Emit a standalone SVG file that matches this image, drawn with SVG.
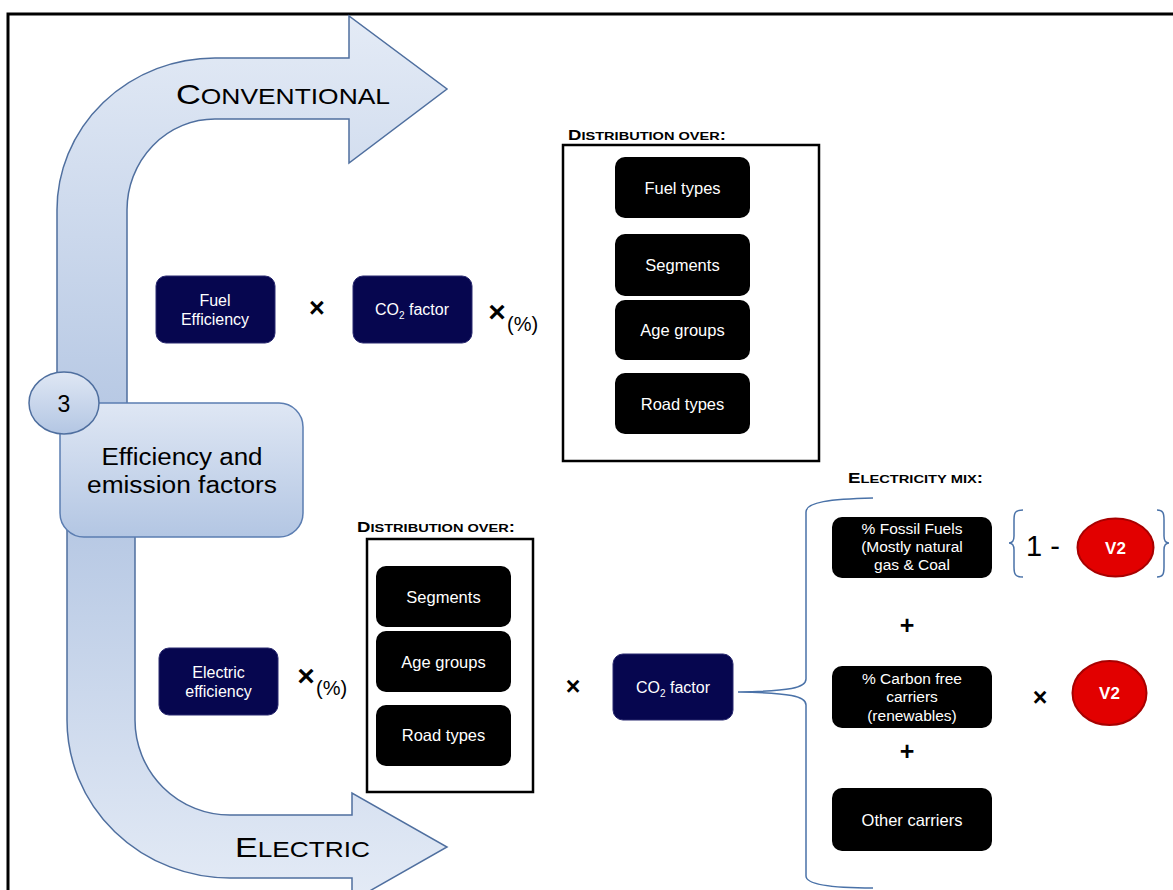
<svg xmlns="http://www.w3.org/2000/svg" width="1173" height="890" viewBox="0 0 1173 890">
<defs>
<linearGradient id="gTop" x1="0" y1="16" x2="0" y2="430" gradientUnits="userSpaceOnUse">
<stop offset="0" stop-color="#e4ebf6"/><stop offset="1" stop-color="#b5c7e3"/>
</linearGradient>
<linearGradient id="gBot" x1="0" y1="510" x2="0" y2="900" gradientUnits="userSpaceOnUse">
<stop offset="0" stop-color="#b5c7e3"/><stop offset="1" stop-color="#e4ebf6"/>
</linearGradient>
<linearGradient id="gBox" x1="0" y1="0" x2="0" y2="1">
<stop offset="0" stop-color="#dfe7f4"/><stop offset="1" stop-color="#b3c6e3"/>
</linearGradient>
<style>
.arrow{stroke:#4f6f9f;stroke-width:1.5}
.navy{fill:#06064f;stroke:#2a2a70;stroke-width:1}
.blk{fill:#000}
.wt{fill:#fff;font-family:"Liberation Sans",Arial,sans-serif;text-anchor:middle}
.t{font-family:"Liberation Sans",Arial,sans-serif;fill:#000}
.sc{font-family:"Liberation Sans",Arial,sans-serif;font-weight:bold;fill:#000}
.brace{fill:none;stroke:#4a72a8;stroke-width:1.5}
.v2{fill:#e20000;stroke:#a80000;stroke-width:2}
.frame{fill:none;stroke:#000;stroke-width:3}
.dist{fill:none;stroke:#000;stroke-width:2.5}
.op{font-family:"Liberation Sans",Arial,sans-serif;fill:#000;font-weight:bold;text-anchor:middle}
</style>
</defs>
<rect x="0" y="0" width="1173" height="890" fill="#fff"/>
<rect class="frame" x="8" y="14" width="1200" height="900"/>

<g id="arrow-conventional">
<path class="arrow" fill="url(#gTop)" d="M57,430 L57,210 A158,152 0 0 1 215,58 L349,58 L349,16 L447,89 L349,163 L349,119 L215,119 A88,91 0 0 0 127,210 L127,430 Z"/>
<text class="t" x="176" y="104" textLength="214" lengthAdjust="spacingAndGlyphs"><tspan font-size="28">C</tspan><tspan font-size="21.5">ONVENTIONAL</tspan></text>
</g>

<g id="arrow-electric">
<path class="arrow" fill="url(#gBot)" d="M67,510 L67,720 A163,158 0 0 0 230,878 L352,878 L352,901 L447,847 L352,793 L352,815 L230,815 A95,95 0 0 1 135,720 L135,510 Z"/>
<text class="t" x="235" y="857" textLength="135" lengthAdjust="spacingAndGlyphs"><tspan font-size="28">E</tspan><tspan font-size="21.5">LECTRIC</tspan></text>
</g>

<g id="node-efficiency">
<rect x="60" y="403" width="243" height="134" rx="24" fill="url(#gBox)" stroke="#5b7db1" stroke-width="1.5"/>
<text class="t" x="182" y="465" font-size="23" text-anchor="middle" textLength="161" lengthAdjust="spacingAndGlyphs">Efficiency and</text>
<text class="t" x="182" y="493" font-size="23" text-anchor="middle" textLength="190" lengthAdjust="spacingAndGlyphs">emission factors</text>
</g>

<g id="node-3">
<ellipse cx="64" cy="403" rx="35" ry="31" fill="url(#gBox)" stroke="#4f6f9f" stroke-width="1.5"/>
<text class="t" x="64" y="412" font-size="23" text-anchor="middle">3</text>
</g>

<g id="node-fuel-efficiency">
<rect class="navy" x="156" y="276" width="119" height="67" rx="10"/>
<text class="wt" x="215" y="306" font-size="16">Fuel</text>
<text class="wt" x="215" y="325" font-size="16">Efficiency</text>
</g>
<text class="op" x="317" y="317" font-size="27">×</text>

<g id="node-co2-top">
<rect class="navy" x="353" y="276" width="119" height="67" rx="10"/>
<text class="wt" x="412" y="315" font-size="16">CO<tspan font-size="10" dy="4">2</tspan><tspan dy="-4"> factor</tspan></text>
</g>
<text class="op" x="497" y="322" font-size="30">×</text>
<text class="t" x="507" y="331" font-size="20">(%)</text>

<g id="dist-top">
<text class="sc" x="568" y="140" textLength="158" lengthAdjust="spacingAndGlyphs"><tspan font-size="14">D</tspan><tspan font-size="11">ISTRIBUTION OVER</tspan><tspan font-size="14">:</tspan></text>
<rect class="dist" x="563" y="145" width="256" height="316"/>
<rect class="blk" x="615" y="157" width="135" height="61" rx="10"/>
<text class="wt" x="682.5" y="194" font-size="16.5">Fuel types</text>
<rect class="blk" x="615" y="234" width="135" height="62" rx="10"/>
<text class="wt" x="682.5" y="271" font-size="16.5">Segments</text>
<rect class="blk" x="615" y="300" width="135" height="60" rx="10"/>
<text class="wt" x="682.5" y="336" font-size="16.5">Age groups</text>
<rect class="blk" x="615" y="373" width="135" height="61" rx="10"/>
<text class="wt" x="682.5" y="410" font-size="16.5">Road types</text>
</g>

<g id="node-electric-efficiency">
<rect class="navy" x="159" y="648" width="119" height="67" rx="10"/>
<text class="wt" x="218.5" y="678" font-size="16">Electric</text>
<text class="wt" x="218.5" y="697" font-size="16">efficiency</text>
</g>
<text class="op" x="306" y="686" font-size="30">×</text>
<text class="t" x="316" y="695" font-size="20">(%)</text>

<g id="dist-bottom">
<text class="sc" x="357" y="532" textLength="158" lengthAdjust="spacingAndGlyphs"><tspan font-size="14">D</tspan><tspan font-size="11">ISTRIBUTION OVER</tspan><tspan font-size="14">:</tspan></text>
<rect class="dist" x="367" y="539" width="166" height="253"/>
<rect class="blk" x="376" y="566" width="135" height="61" rx="10"/>
<text class="wt" x="443.5" y="603" font-size="16.5">Segments</text>
<rect class="blk" x="376" y="631" width="135" height="61" rx="10"/>
<text class="wt" x="443.5" y="668" font-size="16.5">Age groups</text>
<rect class="blk" x="376" y="705" width="135" height="61" rx="10"/>
<text class="wt" x="443.5" y="741" font-size="16.5">Road types</text>
</g>
<text class="op" x="573" y="695" font-size="25">×</text>

<g id="node-co2-bottom">
<rect class="navy" x="613" y="654" width="120" height="66" rx="10"/>
<text class="wt" x="673" y="693" font-size="16">CO<tspan font-size="10" dy="4">2</tspan><tspan dy="-4"> factor</tspan></text>
</g>

<g id="connectors">
<path class="brace" d="M873,498 C830,499 806,502 806,512 L806,679 C806,688 790,691 738,692 C790,693 806,696 806,705 L806,876 C806,884 830,888 873,888"/>
</g>

<g id="electricity-mix">
<text class="sc" x="848" y="483" textLength="135" lengthAdjust="spacingAndGlyphs"><tspan font-size="14">E</tspan><tspan font-size="11">LECTRICITY MIX</tspan><tspan font-size="14">:</tspan></text>
</g>

<g id="node-fossil">
<rect class="blk" x="832" y="517" width="160" height="61" rx="10"/>
<text class="wt" x="912" y="534" font-size="15.5">% Fossil Fuels</text>
<text class="wt" x="912" y="552" font-size="15.5">(Mostly natural</text>
<text class="wt" x="912" y="570" font-size="15.5">gas &amp; Coal</text>
</g>
<g id="formula-fossil">
<path class="brace" d="M1023,510 C1015,510 1014,513 1014,520 L1014,536 C1014,541 1012,543 1009,543 C1012,543 1014,545 1014,550 L1014,567 C1014,574 1015,577 1023,577"/>
<text class="t" x="1026" y="556" font-size="29">1 -</text>
<path class="brace" d="M1157,510 C1163,510 1164,513 1164,520 L1164,536 C1164,541 1166,543 1169,543 C1166,543 1164,545 1164,550 L1164,567 C1164,574 1163,577 1157,577"/>
</g>
<g id="node-v2-top">
<ellipse class="v2" cx="1115.5" cy="547.5" rx="38" ry="29"/>
<text class="wt" x="1115.5" y="554" font-size="17" font-weight="bold">V2</text>
</g>

<text class="op" x="907" y="634" font-size="25" font-weight="normal">+</text>

<g id="node-carbon-free">
<rect class="blk" x="832" y="666" width="160" height="62" rx="10"/>
<text class="wt" x="912" y="684" font-size="15.5">% Carbon free</text>
<text class="wt" x="912" y="702" font-size="15.5">carriers</text>
<text class="wt" x="912" y="721" font-size="15.5">(renewables)</text>
</g>
<text class="op" x="1040" y="706" font-size="25">×</text>
<g id="node-v2-bottom">
<ellipse class="v2" cx="1109.5" cy="693" rx="37" ry="32"/>
<text class="wt" x="1109.5" y="699" font-size="17" font-weight="bold">V2</text>
</g>

<text class="op" x="907" y="760" font-size="25" font-weight="normal">+</text>

<g id="node-other">
<rect class="blk" x="832" y="788" width="160" height="63" rx="10"/>
<text class="wt" x="912" y="826" font-size="16.5">Other carriers</text>
</g>
</svg>
